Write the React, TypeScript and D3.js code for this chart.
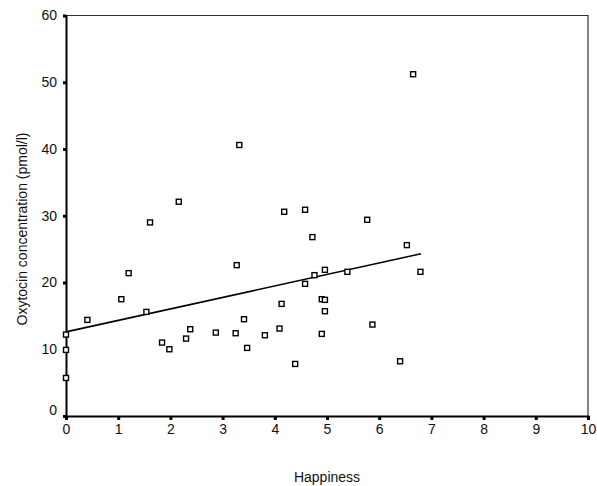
import { useEffect, useRef } from 'react';
import * as d3 from 'd3';

// happiness score per subject
const happiness = [
  0, 0, 0, 0.41, 1.06, 1.20, 1.54, 1.61, 1.84, 1.98,
  2.16, 2.30, 2.38, 2.87, 3.25, 3.27, 3.32, 3.41, 3.47, 3.81,
  4.09, 4.13, 4.18, 4.39, 4.58, 4.58, 4.72, 4.76, 4.90, 4.90,
  4.96, 4.96, 4.96, 5.39, 5.77, 5.87, 6.40, 6.53, 6.65, 6.79,
];
// oxytocin concentration (pmol/l), same order
const oxytocin = [
  12.2, 9.9, 5.7, 14.4, 17.5, 21.4, 15.6, 29.0, 11.0, 10.0,
  32.1, 11.6, 13.0, 12.5, 12.4, 22.6, 40.6, 14.5, 10.2, 12.1,
  13.1, 16.8, 30.6, 7.8, 30.9, 19.8, 26.8, 21.1, 17.5, 12.3,
  21.9, 17.4, 15.7, 21.6, 29.4, 13.7, 8.2, 25.6, 51.2, 21.6,
];
// fitted line
const fitX = [0, 6.8];
const fitY = [12.6, 24.3];
const xTicks = [0, 1, 2, 3, 4, 5, 6, 7, 8, 9, 10];
const yTicks = [0, 10, 20, 30, 40, 50, 60];

const font = "'Liberation Sans', Arial, sans-serif";
const W = 597, H = 486;

export default function App() {
  const svgRef = useRef<SVGSVGElement>(null);

  useEffect(() => {
    const svg = d3.select(svgRef.current);
    svg.selectAll('*').remove();

    const L = 66, R = 588, T = 15.5, B = 416;
    const x = d3.scaleLinear().domain([0, 10]).range([L, R]);
    const y = d3.scaleLinear().domain([0, 60]).range([B, T]);

    svg.append('rect').attr('width', W).attr('height', H).attr('fill', '#fff');

    // frame: thin top/right
    svg.append('path')
      .attr('d', `M${L},${T}H${R}V${B}`)
      .attr('fill', 'none').attr('stroke', '#333').attr('stroke-width', 1.2);

    // axes
    const yAx = svg.append('g').attr('transform', `translate(${L},0)`)
      .call(d3.axisLeft(y).tickValues(yTicks).tickSize(3).tickPadding(6).tickFormat(d3.format('d')));
    yAx.select('.domain').attr('stroke', '#000').attr('stroke-width', 2);
    yAx.selectAll('line').attr('stroke', '#000').attr('stroke-width', 3);
    yAx.selectAll('text').attr('fill', '#111').attr('font-family', font).attr('font-size', 14)
      .attr('dy', (d: any) => (d === 0 ? '-0.1em' : '0.32em'));

    const xAx = svg.append('g').attr('transform', `translate(0,${B})`)
      .call(d3.axisBottom(x).tickValues(xTicks).tickSize(4).tickPadding(4).tickFormat(d3.format('d')));
    xAx.select('.domain').attr('stroke', '#000').attr('stroke-width', 2);
    xAx.selectAll('line').attr('stroke', '#000').attr('stroke-width', 3);
    xAx.selectAll('text').attr('fill', '#111').attr('font-family', font).attr('font-size', 14);

    // regression line
    const line = d3.line<number>().x(d => x(d)).y((d, i) => y(fitY[i]));
    svg.append('path').datum(fitX).attr('d', line)
      .attr('fill', 'none').attr('stroke', '#000').attr('stroke-width', 1.6);

    // open square markers
    const s = 5;
    svg.append('g').selectAll('rect').data(happiness).join('rect')
      .attr('x', d => x(d) - s / 2).attr('y', (d, i) => y(oxytocin[i]) - s / 2)
      .attr('width', s).attr('height', s)
      .attr('fill', '#fff').attr('stroke', '#000').attr('stroke-width', 1.4);

    // titles
    svg.append('text').attr('x', (L + R) / 2).attr('y', 482)
      .attr('text-anchor', 'middle').attr('font-family', font).attr('font-size', 14)
      .attr('fill', '#111').text('Happiness');
    svg.append('text').attr('transform', `translate(27,229) rotate(-90)`)
      .attr('text-anchor', 'middle').attr('font-family', font).attr('font-size', 14)
      .attr('fill', '#111').text('Oxytocin concentration (pmol/l)');
  }, []);

  return (
    <div style={{ position: 'absolute', left: 0, top: 0 }}>
      <svg ref={svgRef} width={W} height={H} style={{ display: 'block' }} />
    </div>
  );
}
